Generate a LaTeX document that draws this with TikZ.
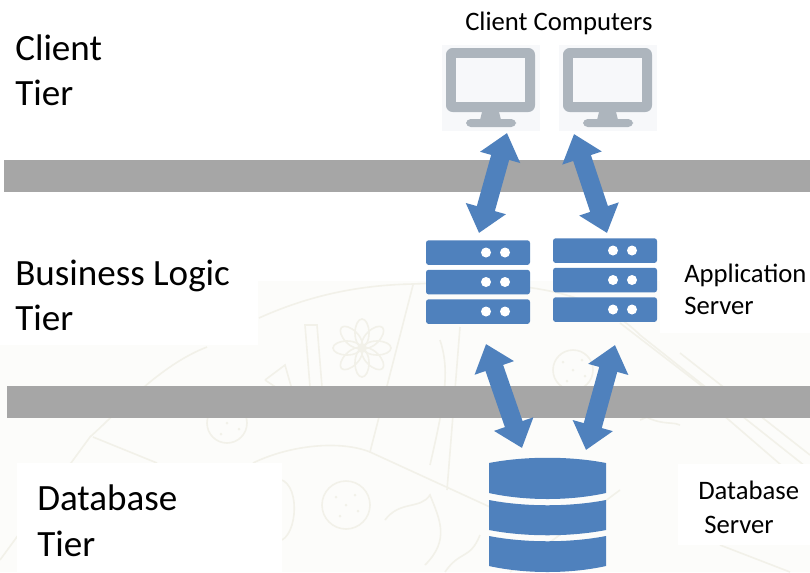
\documentclass[tikz,border=0pt]{standalone}
\usepackage{fontspec}
\setmainfont{Carlito}
\usetikzlibrary{arrows.meta}
\definecolor{barblue}{HTML}{4F81BD}
\definecolor{bargray}{HTML}{A6A6A6}
\definecolor{pcgray}{HTML}{ADB5BD}
\definecolor{pcback}{HTML}{F7F8FA}
\definecolor{inkfaint}{HTML}{F2F1E9}
\definecolor{paperfaint}{HTML}{FCFCFA}
\tikzset{
  tier/.style={anchor=base west, inner sep=0pt, font=\fontsize{27.8}{27.8}\selectfont},
  caption/.style={anchor=base west, inner sep=0pt, font=\fontsize{20}{20}\selectfont},
  pcnode/.style={minimum width=73.5pt, minimum height=64.5pt, inner sep=0pt, fill=pcback},
  srvrow/.style={minimum width=78pt, minimum height=18.5pt, inner sep=0pt, fill=barblue, rounded corners=2pt},
  link/.style={draw=barblue, line width=14pt, {Triangle[width=30pt,length=19pt]}-{Triangle[width=30pt,length=19pt]}},
  faint/.style={draw=inkfaint, line width=1.2pt}
}
\begin{document}
\begin{tikzpicture}[x=0.75pt,y=-0.75pt]
\useasboundingbox (0,0) rectangle (810,572);
\fill[white] (0,0) rectangle (810,572);
% faint background drawing
\fill[paperfaint] (0,345) rectangle (810,572) (258,281) rectangle (810,345);
\draw[faint] (259,318) .. controls (310,295) and (360,285) .. (413,284) .. controls (500,280) and (590,285) .. (640,335) -- (810,470);
\draw[faint] (207,347) .. controls (160,365) and (120,410) .. (90,437) -- (0,560) (93,437) -- (157,463);
\draw[faint] (253,463) .. controls (290,445) and (340,440) .. (370,452) -- (490,507);
\draw[faint] (413,285) -- (370,452) (460,327) -- (447,490);
\draw[faint] (620,323) -- (720,400) (680,353) -- (810,455) (640,420) -- (700,395) -- (810,490);
\draw[faint] (305,325) -- (317,325) -- (322,387) -- (310,387) -- cycle;
% flower
\foreach \a in {0,45,...,315}{
  \draw[faint, rotate around={\a:(362,348)}] (362,333) ellipse (7 and 14);
}
\draw[faint] (362,348) circle (4);
% cookies
\foreach \x/\y/\r in {227/423/20, 346/505/24, 573/370/20}{
  \draw[faint] (\x,\y) circle (\r);
  \foreach \dx/\dy in {0/0, -10/-8, 9/-10, 12/6, -6/11}{
    \fill[inkfaint] (\x+\dx,\y+\dy) circle (1.5);
  }
}
% squiggles
\draw[faint] (385,520) .. controls (400,500) and (420,510) .. (430,495) .. controls (440,520) and (450,540) .. (425,565);
\draw[faint] (270,480) .. controls (300,470) and (300,530) .. (282,540);
\draw[faint] (445,572) .. controls (460,550) and (470,560) .. (480,535);
\draw[faint] (510,572) -- (620,490) (790,572) -- (720,545);
\draw[faint] (620,395) .. controls (650,430) and (670,420) .. (680,425);
\draw[faint] (440,340) .. controls (450,370) and (445,400) .. (430,465);
\draw[faint] (265,380) -- (285,365) -- (295,400) -- (265,380);
\fill[white] (0,190) rectangle (258,345);
\fill[white] (17,463) rectangle (282,572);
\fill[white] (678,464) rectangle (810,545);
\fill[white] (660,232) rectangle (810,333);
% tier bars
\fill[bargray] (4,160) rectangle (810,192);
\fill[bargray] (7,386) rectangle (810,418);
% left labels
\node[tier] (clientA) at (15,60) {Client};
\node[tier] (clientB) at (15,105) {Tier};
\node[tier] (logicA) at (15,285) {Business Logic};
\node[tier] (logicB) at (15,330) {Tier};
\node[tier] (dataA) at (37,510) {Database};
\node[tier] (dataB) at (37,556) {Tier};
% right labels
\node[caption] (pclabel) at (465,30) {Client Computers};
\node[caption] (applabelA) at (684,282) {Application};
\node[caption] (applabelB) at (684,314) {Server};
\node[caption] (dblabelA) at (698,499) {Database};
\node[caption] (dblabelB) at (704,533) {Server};
% client computers
\foreach \n/\x in {pcA/491, pcB/608}{
  \node[pcnode] (\n) at (\x,88) {};
  \fill[pcgray, rounded corners=5pt] (\x-45,48) rectangle (\x+44,112);
  \fill[pcback] (\x-35,58) rectangle (\x+34,102);
  \fill[pcgray] (\x-9,112) -- (\x+8,112) -- (\x+10,120) -- (\x-11,120) -- cycle;
  \fill[pcgray, rounded corners=3.5pt] (\x-25,119) rectangle (\x+25,127);
}
% application servers
\foreach \n/\x/\y in {srvA/478/240, srvB/605/238}{
  \foreach \r/\dy in {1/0, 2/29.5, 3/59}{
    \node[srvrow, anchor=north] (\n\r) at (\x,\y+\dy) {};
    \fill[white] (\x+8,\y+\dy+12.5) circle (5) (\x+27,\y+\dy+12.5) circle (5);
  }
}
% database
\node[minimum width=87.75pt, minimum height=85.5pt, inner sep=0pt] (db) at (547.5,515) {};
\fill[barblue] (489,463) .. controls (525,456) and (570,456) .. (606,463) -- (606,493)
  .. controls (570,501) and (525,501) .. (489,493) -- cycle;
\fill[barblue] (489,500) .. controls (525,507) and (570,507) .. (606,500) -- (606,530)
  .. controls (570,537) and (525,537) .. (489,530) -- cycle;
\fill[barblue] (489,536) .. controls (525,543) and (570,543) .. (606,536) -- (606,566)
  .. controls (570,574) and (525,574) .. (489,566) -- cycle;
% arrow ends
\coordinate (upA) at (507,133);
\coordinate (upB) at (574,134);
\coordinate (midA) at (479,233);
\coordinate (midB) at (607,233);
\coordinate (lowA) at (486,344);
\coordinate (lowB) at (615,345);
\coordinate (dbA) at (522,448);
\coordinate (dbB) at (586,450);
\draw[link] (upA) -- (midA);
\draw[link] (upB) -- (midB);
\draw[link] (lowA) -- (dbA);
\draw[link] (lowB) -- (dbB);
\end{tikzpicture}
\end{document}
